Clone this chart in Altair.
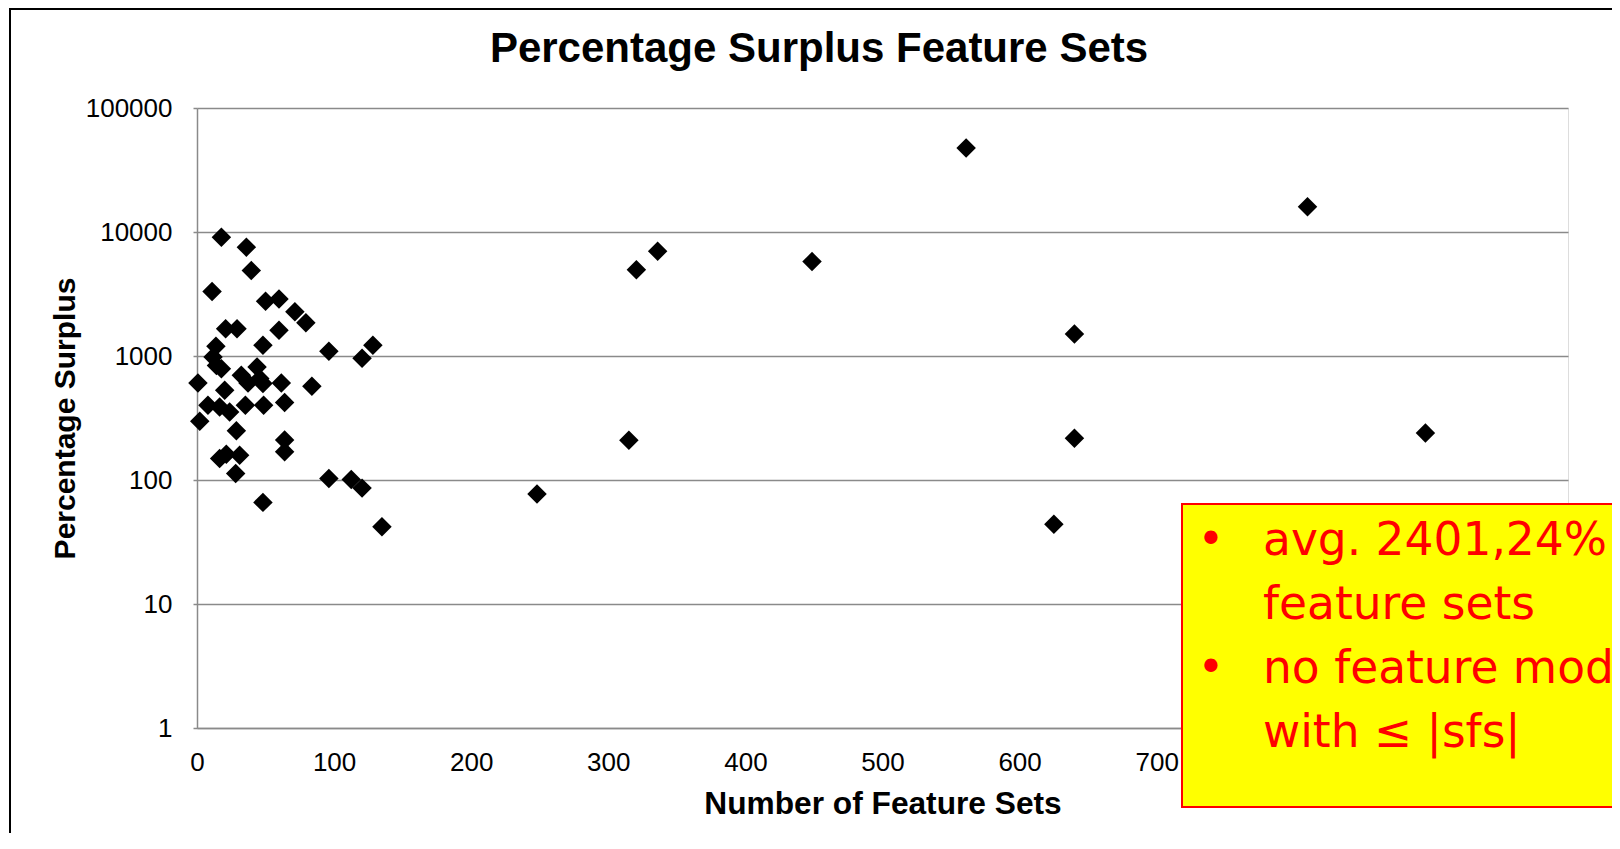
import altair as alt
import pandas as pd

# ---- data ----
feature_sets = [
    17.8, 36.0, 39.6, 11.0, 50.0, 59.8, 71.4, 79.4, 20.9, 29.2,
    59.8, 13.8, 48.1, 96.2, 128.3, 120.4, 11.7, 14.2, 17.8, 0.7,
    32.3, 37.2, 43.8, 45.8, 48.1, 61.5, 83.8, 20.2, 8.0, 16.5,
    23.8, 35.3, 48.6, 63.9, 2.0, 28.7, 63.9, 63.9, 16.5, 21.4,
    31.1, 28.2, 96.2, 112.5, 120.4, 48.1, 134.9,
    561, 810, 336, 320.5, 448.6, 640, 315, 640, 896, 248, 625,
]
surplus = [
    9080, 7550, 4900, 3320, 2770, 2880, 2275, 1857, 1660, 1660,
    1610, 1200, 1220, 1090, 1220, 960, 980, 840, 790, 607,
    700, 607, 816, 657, 600, 607, 570, 530, 400, 388,
    354, 401, 401, 421, 298, 249, 210, 169, 149, 161,
    158, 113, 103, 101, 86, 66, 42,
    47600, 15960, 7000, 4960, 5770, 1507, 209, 217, 239, 77, 44,
]
x_ticks = [0, 100, 200, 300, 400, 500, 600, 700]
y_ticks = [1, 10, 100, 1000, 10000, 100000]

chart_title = "Percentage Surplus Feature Sets"
x_title = "Number of Feature Sets"
y_title = "Percentage Surplus"
note_item1 = ["avg. 2401,24%", "feature sets"]
note_item2 = ["no feature mod", "with \u2264 |sfs|"]
bullet = "\u2022"

df = pd.DataFrame({"sets": feature_sets, "surplus": surplus})
one = pd.DataFrame({"k": [0]})

W, H = 1371, 620
FONT = "Liberation Sans"
GRID = "#8a8a8a"
NOTE_FONT = "DejaVu Sans"
NOTE_SIZE = 45.5
NOTE_LH = 64

points = alt.Chart(df).mark_point(
    shape="diamond", filled=True, color="black", size=380, opacity=1
).encode(
    x=alt.X(
        "sets:Q",
        scale=alt.Scale(domain=[0, 1000], nice=False, zero=False),
        axis=alt.Axis(
            values=x_ticks, grid=False, ticks=False, tickSize=0,
            labelPadding=21, labelFontSize=26, labelFont=FONT, labelColor="black",
            labelFlush=False, labelOverlap=False,
            domainColor=GRID, domainWidth=1.5,
            title=x_title, titleFont=FONT, titleFontSize=31.7, titleFontWeight="bold",
            titleColor="black", titleX=W / 2, titleY=85, titleBaseline="alphabetic",
            titleAlign="center",
        ),
    ),
    y=alt.Y(
        "surplus:Q",
        scale=alt.Scale(type="log", domain=[1, 100000], nice=False),
        axis=alt.Axis(
            values=y_ticks, format="d", grid=True, gridColor=GRID, gridWidth=1.5,
            ticks=True, tickSize=4, tickColor=GRID, tickWidth=1.5,
            labelPadding=21, labelFontSize=26, labelFont=FONT, labelColor="black",
            labelOverlap=False,
            domainColor=GRID, domainWidth=1.5,
            title=y_title, titleFont=FONT, titleFontSize=30, titleFontWeight="bold",
            titleColor="black", titleX=-123, titleY=H / 2, titleAngle=270,
            titleBaseline="alphabetic", titleAlign="center",
        ),
    ),
)

frame_left = alt.Chart(one).mark_rule(color="black", strokeWidth=2).encode(
    x=alt.value(-187), y=alt.value(-99), y2=alt.value(900)
)
frame_top = alt.Chart(one).mark_rule(color="black", strokeWidth=2).encode(
    x=alt.value(-188), x2=alt.value(1500), y=alt.value(-99)
)

title_mark = alt.Chart(one).mark_text(
    align="center", baseline="alphabetic", font=FONT, fontSize=42,
    fontWeight="bold", color="black"
).encode(x=alt.value(622), y=alt.value(-46), text=alt.value(chart_title))

note_box = alt.Chart(one).mark_rect(
    fill="#FFFF00", stroke="#FF0000", strokeWidth=2
).encode(
    x=alt.value(985), x2=alt.value(1500), y=alt.value(396), y2=alt.value(699)
)


def note_text(lines, y, x, align):
    return alt.Chart(one).mark_text(
        align=align, baseline="alphabetic", font=NOTE_FONT, fontSize=NOTE_SIZE,
        lineHeight=NOTE_LH, color="#FF0000"
    ).encode(x=alt.value(x), y=alt.value(y), text=alt.value(lines))


layers = [
    frame_left, frame_top, title_mark, points, note_box,
    note_text(note_item1, 447, 1066, "left"),
    note_text(note_item2, 447 + 2 * NOTE_LH, 1066, "left"),
    note_text(bullet, 447, 1014, "center"),
    note_text(bullet, 447 + 2 * NOTE_LH, 1014, "center"),
]

chart = alt.layer(*layers).properties(
    width=W,
    height=H,
    padding={"left": 189, "top": 100, "right": 44, "bottom": 105},
    autosize=alt.AutoSizeParams(type="none"),
).configure_view(strokeWidth=0).configure(background="white")

chart.save("out.html", embed_options={"renderer": "svg", "actions": False})
